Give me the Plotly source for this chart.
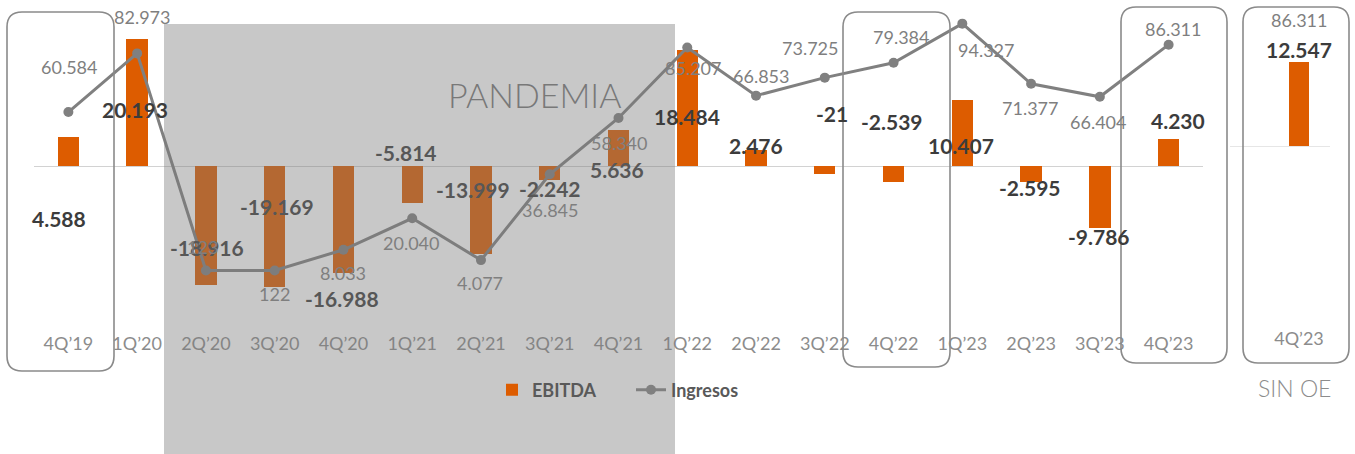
import plotly.graph_objects as go

# ---------------- data ----------------
quarters = ["4Q’19", "1Q’20", "2Q’20", "3Q’20", "4Q’20", "1Q’21", "2Q’21", "3Q’21", "4Q’21",
            "1Q’22", "2Q’22", "3Q’22", "4Q’22", "1Q’23", "2Q’23", "3Q’23", "4Q’23"]
ebitda = [4588, 20193, -18916, -19169, -16988, -5814, -13999, -2242, 5636,
          18484, 2476, -1270, -2539, 10407, -2595, -9786, 4230]
ebitda_labels = ["4.588", "20.193", "-18.916", "-19.169", "-16.988", "-5.814", "-13.999", "-2.242", "5.636",
                 "18.484", "2.476", "-21", "-2.539", "10.407", "-2.595", "-9.786", "4.230"]
ingresos = [60584, 82973, 123, 122, 8033, 20040, 4077, 36845, 58340,
            85207, 66853, 73725, 79384, 94327, 71377, 66404, 86311]
ingresos_labels = ["60.584", "82.973", "123", "122", "8.033", "20.040", "4.077", "36.845", "58.340",
                   "85.207", "66.853", "73.725", "79.384", "94.327", "71.377", "66.404", "86.311"]
sin_oe_quarter = ["4Q’23"]
sin_oe_ebitda = [12547]
sin_oe_ebitda_label = "12.547"
sin_oe_ingresos_label = "86.311"
pandemia_range = (2, 8)   # indices of quarters under the PANDEMIA band

# ---------------- style / layout helpers ----------------
W, H = 1355, 454
def X(px):
    return px / W
def Y(py):
    return (H - py) / H

ORANGE = "#DD5C00"
LINEGRAY = "#808080"
DARK = "#3C3C3C"
DARK_T = "#575757"
GRAYTXT = "#7F7F7F"
FONT = "Lato, 'Open Sans', sans-serif"

# label offsets (px) relative to bar end / line point
ebitda_off = [(-9, -81), (-2, -71), (1, 38), (2, 80), (-1, -25), (-6, 50), (-8, 65), (0, -8), (-2, -39),
              (0, -67), (0, 5), (7, 60), (-2, 60), (-1, -45), (-1, -5), (-1, -9), (9, 19)]
ingresos_off = [(1, 45), (5, 36), (-3, 23), (0, -24), (0, -23), (-1, -25), (-1, -23), (0, -36), (0, -25),
                (6, -20), (5, 20), (-15, 30), (7, 26), (24, -26), (-1, -24), (-2, -25), (4, 16)]

fig = go.Figure()

fig.add_trace(go.Bar(
    x=quarters, y=ebitda, name="EBITDA", marker=dict(color=ORANGE, line=dict(width=0)),
    width=0.31, xaxis="x", yaxis="y", hoverinfo="skip"))
fig.add_trace(go.Scatter(
    x=quarters, y=ingresos, name="Ingresos", mode="lines+markers",
    line=dict(color=LINEGRAY, width=3), marker=dict(size=10, color=LINEGRAY),
    xaxis="x", yaxis="y2", hoverinfo="skip"))
fig.add_trace(go.Bar(
    x=sin_oe_quarter, y=sin_oe_ebitda, name="EBITDA", showlegend=False,
    marker=dict(color=ORANGE, line=dict(width=0)), width=0.28,
    xaxis="x2", yaxis="y3", hoverinfo="skip"))

annotations = []
for i, q in enumerate(quarters):
    inside = pandemia_range[0] <= i <= pandemia_range[1]
    dx, dy = ebitda_off[i]
    annotations.append(dict(
        x=q, y=ebitda[i], xref="x", yref="y", text=ebitda_labels[i], showarrow=False,
        xshift=dx, yshift=dy, xanchor="center", yanchor="middle",
        font=dict(family=FONT, size=21, color=DARK_T if inside else DARK, weight="bold")))
    dx, dy = ingresos_off[i]
    annotations.append(dict(
        x=q, y=ingresos[i], xref="x", yref="y2", text=ingresos_labels[i], showarrow=False,
        xshift=dx, yshift=dy, xanchor="center", yanchor="middle",
        font=dict(family=FONT, size=18, color=GRAYTXT)))

annotations.append(dict(
    x=sin_oe_quarter[0], y=sin_oe_ebitda[0], xref="x2", yref="y3", text=sin_oe_ebitda_label,
    showarrow=False, yshift=12, xanchor="center", yanchor="middle",
    font=dict(family=FONT, size=21, color=DARK, weight="bold")))
annotations.append(dict(
    x=sin_oe_quarter[0], y=sin_oe_ebitda[0], xref="x2", yref="y3", text=sin_oe_ingresos_label,
    showarrow=False, yshift=42, xanchor="center", yanchor="middle",
    font=dict(family=FONT, size=18, color=GRAYTXT)))
annotations.append(dict(
    x=X(535), y=Y(94), xref="paper", yref="paper", text="PANDEMIA", showarrow=False,
    xanchor="center", yanchor="middle",
    font=dict(family=FONT, size=34, color="#787878", weight=300)))
annotations.append(dict(
    x=X(1294), y=Y(388), xref="paper", yref="paper", text="SIN OE", showarrow=False,
    xanchor="center", yanchor="middle",
    font=dict(family=FONT, size=23, color="#8C8C8C", weight=300)))

def rbox(x0, y0, x1, y1, r=15):
    rx, ry = r, r
    p = (f"M {X(x0+rx)},{Y(y0)} L {X(x1-rx)},{Y(y0)} Q {X(x1)},{Y(y0)} {X(x1)},{Y(y0+ry)} "
         f"L {X(x1)},{Y(y1-ry)} Q {X(x1)},{Y(y1)} {X(x1-rx)},{Y(y1)} "
         f"L {X(x0+rx)},{Y(y1)} Q {X(x0)},{Y(y1)} {X(x0)},{Y(y1-ry)} "
         f"L {X(x0)},{Y(y0+ry)} Q {X(x0)},{Y(y0)} {X(x0+rx)},{Y(y0)} Z")
    return dict(type="path", path=p, xref="paper", yref="paper",
                line=dict(color="#8A8A8A", width=1.6), fillcolor="rgba(0,0,0,0)", layer="above")

shapes = [
    dict(type="rect", xref="paper", yref="paper", x0=X(164), x1=X(675), y0=Y(454), y1=Y(24),
         fillcolor="rgba(122,122,122,0.41)", line=dict(width=0), layer="above"),
    rbox(7, 12, 114, 371),
    rbox(843, 12, 950, 367),
    rbox(1121, 7, 1227, 363),
    rbox(1243, 7, 1349, 363),
]

# axis scaling (pixels)
T, B = 10, 331
bar_zero, bar_k = 166, 6.3 / 1000
line_zero, line_k = 270.8, 2.62 / 1000
T2, B2 = 10, 326
bar2_zero, bar2_k = 146, 6.72 / 1000

tickfont = dict(family=FONT, size=18, color="#8C8C8C")

fig.update_layout(
    width=W, height=H,
    margin=dict(l=0, r=0, t=0, b=0),
    paper_bgcolor="white", plot_bgcolor="rgba(0,0,0,0)",
    font=dict(family=FONT),
    bargap=0,
    xaxis=dict(domain=[X(34), X(1203)], type="category", range=[-0.5, 16.5],
               showgrid=False, showline=False, zeroline=False, ticks="", tickfont=tickfont,
               anchor="y", fixedrange=True),
    yaxis=dict(domain=[Y(B), Y(T)], range=[-(B - bar_zero) / bar_k, (bar_zero - T) / bar_k],
               showgrid=False, showline=False, showticklabels=False,
               zeroline=True, zerolinecolor="#D2D2D2", zerolinewidth=1.2, anchor="x"),
    yaxis2=dict(overlaying="y", side="right", anchor="x",
                range=[-(B - line_zero) / line_k, (line_zero - T) / line_k],
                showgrid=False, showline=False, showticklabels=False, zeroline=False),
    xaxis2=dict(domain=[X(1230), X(1330)], type="category", range=[-1.0, 0.45], anchor="y3",
                showgrid=False, showline=False, zeroline=False, ticks="", tickfont=tickfont),
    yaxis3=dict(domain=[Y(B2), Y(T2)], anchor="x2",
                range=[-(B2 - bar2_zero) / bar2_k, (bar2_zero - T2) / bar2_k],
                showgrid=False, showline=False, showticklabels=False,
                zeroline=True, zerolinecolor="#E6E6E6", zerolinewidth=1.2),
    legend=dict(orientation="h", x=X(492), xanchor="left", y=Y(390), yanchor="middle",
                bgcolor="rgba(0,0,0,0)", entrywidth=94, entrywidthmode="pixels",
                font=dict(family=FONT, size=18, color="#595959", weight="bold")),
    annotations=annotations,
    shapes=shapes,
    showlegend=True,
)

fig.write_html("out.html", config={"displayModeBar": False},
               post_script="document.body.style.margin='0px';document.body.style.padding='0px';")
